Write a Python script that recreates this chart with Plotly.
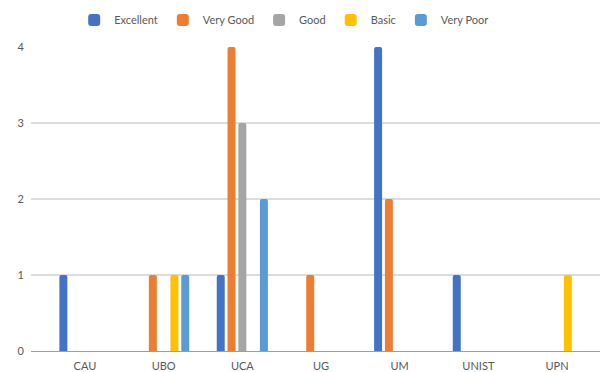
import plotly.graph_objects as go

categories = ["CAU", "UBO", "UCA", "UG", "UM", "UNIST", "UPN"]
excellent = [1, 0, 1, 0, 4, 1, 0]
very_good = [0, 1, 4, 1, 2, 0, 0]
good = [0, 0, 3, 0, 0, 0, 0]
basic = [0, 1, 0, 0, 0, 0, 1]
very_poor = [0, 1, 2, 0, 0, 0, 0]

series = [
    ("Excellent", excellent, "#4472C4"),
    ("Very Good", very_good, "#ED7D31"),
    ("Good", good, "#A5A5A5"),
    ("Basic", basic, "#FFC000"),
    ("Very Poor", very_poor, "#5B9BD5"),
]

fig = go.Figure()
for name, vals, color in series:
    fig.add_trace(go.Bar(name=name, x=categories, y=vals, marker_color=color,
                         marker_line_width=0, marker_cornerradius=2))

font = dict(family="Lato, 'Open Sans', sans-serif", size=11, color="#595959")
fig.update_layout(
    width=600, height=372,
    margin=dict(l=31, r=0, t=47, b=19),
    paper_bgcolor="white", plot_bgcolor="white",
    barmode="group", bargap=0.314, bargroupgap=0.26,
    font=font,
    legend=dict(orientation="h", x=0.445, xanchor="center", y=0.985, yanchor="top",
                yref="container", font=font, itemwidth=30, traceorder="normal"),
    showlegend=True,
)
fig.update_xaxes(type="category", range=[-0.686, 6.546], showgrid=False,
                 showline=True, linecolor="#9e9e9e", linewidth=1, ticks="",
                 ticklabelstandoff=5, tickfont=font)
fig.update_yaxes(range=[0, 4], dtick=1, showgrid=True, gridcolor="#dcdcdc", gridwidth=1.5,
                 zeroline=False, showline=False, ticks="", ticklabelstandoff=6,
                 tickfont=font)

fig.write_html("out.html")
